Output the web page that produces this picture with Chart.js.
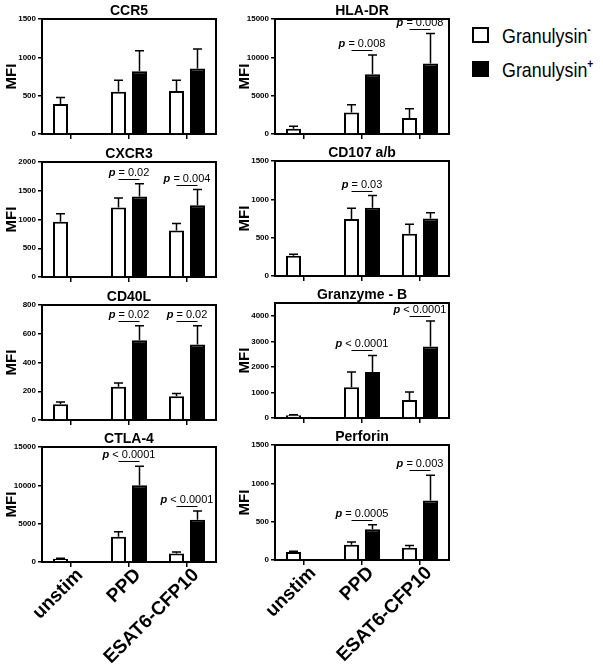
<!DOCTYPE html>
<html><head><meta charset="utf-8">
<script src="https://cdn.jsdelivr.net/npm/chart.js@4"></script>
<style>
html,body{margin:0;padding:0;background:#fff;width:603px;height:669px;overflow:hidden;position:relative}
canvas{position:absolute}
.sw{position:absolute;width:13px;height:12px;border:2px solid #000}
.lt{position:absolute;font-family:"Liberation Sans",Arial,sans-serif;font-size:21px;line-height:21px;transform-origin:left center;transform:scaleX(.85);white-space:nowrap;color:#000}
.lt sup{font-size:12px;font-weight:bold;line-height:0;position:relative;top:-1px}
</style></head><body>
<canvas id="c1" width="220" height="142" style="left:0;top:0"></canvas>
<canvas id="c2" width="220" height="142" style="left:233px;top:0"></canvas>
<canvas id="c3" width="220" height="142" style="left:0;top:143px"></canvas>
<canvas id="c4" width="220" height="142" style="left:233px;top:142px"></canvas>
<canvas id="c5" width="220" height="142" style="left:0;top:286px"></canvas>
<canvas id="c6" width="220" height="142" style="left:233px;top:284px"></canvas>
<canvas id="c7" width="220" height="241" style="left:0;top:428px"></canvas>
<canvas id="c8" width="220" height="243" style="left:233px;top:426px"></canvas>
<div id="legend"></div>
<script>
// ---------- data ----------
const categories = ['unstim', 'PPD', 'ESAT6-CFP10'];
const seriesNames = ['Granulysin', 'Granulysin'];
const seriesSup = ['-', '+'];

const ccr5Neg = [390, 550, 560];      const ccr5NegErr = [85, 150, 140];
const ccr5Pos = [null, 820, 855];     const ccr5PosErr = [null, 265, 255];
const ccr5P = [null, null, null];
const ccr5Ticks = [0, 500, 1000, 1500];

const hladrNeg = [700, 2800, 2100];   const hladrNegErr = [300, 1000, 1200];
const hladrPos = [null, 7800, 9200];  const hladrPosErr = [null, 2500, 3900];
const hladrP = [null, '= 0.008', '= 0.008'];
const hladrTicks = [0, 5000, 10000, 15000];

const cxcr3Neg = [960, 1210, 810];    const cxcr3NegErr = [140, 165, 120];
const cxcr3Pos = [null, 1400, 1250];  const cxcr3PosErr = [null, 220, 270];
const cxcr3P = [null, '= 0.02', '= 0.004'];
const cxcr3Ticks = [0, 500, 1000, 1500, 2000];

const cd107Neg = [265, 745, 550];     const cd107NegErr = [18, 140, 125];
const cd107Pos = [null, 890, 750];    const cd107PosErr = [null, 160, 75];
const cd107P = [null, '= 0.03', null];
const cd107Ticks = [0, 500, 1000, 1500];

const cd40lNeg = [110, 231, 165];     const cd40lNegErr = [16, 26, 20];
const cd40lPos = [null, 555, 525];    const cd40lPosErr = [null, 100, 130];
const cd40lP = [null, '= 0.02', '= 0.02'];
const cd40lTicks = [0, 200, 400, 600, 800];

const gzbNeg = [110, 1200, 700];      const gzbNegErr = [20, 600, 320];
const gzbPos = [null, 1800, 2800];    const gzbPosErr = [null, 650, 1000];
const gzbP = [null, '< 0.0001', '< 0.0001'];
const gzbTicks = [0, 1000, 2000, 3000, 4000];

const ctla4Neg = [420, 3300, 1100];   const ctla4NegErr = [60, 650, 200];
const ctla4Pos = [null, 10000, 5500]; const ctla4PosErr = [null, 2500, 1150];
const ctla4P = [null, '< 0.0001', '< 0.0001'];
const ctla4Ticks = [0, 5000, 10000, 15000];

const perfNeg = [105, 200, 160];      const perfNegErr = [10, 35, 30];
const perfPos = [null, 400, 775];     const perfPosErr = [null, 60, 330];
const perfP = [null, '= 0.0005', '= 0.003'];
const perfTicks = [0, 500, 1000, 1500];

// ---------- rendering ----------
const FAM = '"Liberation Sans", Arial, Helvetica, sans-serif';
Chart.defaults.font.family = FAM;
Chart.defaults.color = '#000';

const framePlugin = {
  id: 'frame',
  afterDraw(chart, args, o) {
    const {ctx, chartArea: a} = chart;
    ctx.save();
    ctx.strokeStyle = '#000'; ctx.lineWidth = 2;
    ctx.beginPath();
    ctx.moveTo(a.left - 1, a.top); ctx.lineTo(a.right, a.top); ctx.lineTo(a.right, a.bottom + 1);
    ctx.stroke();
    ctx.fillStyle = '#000';
    ctx.font = 'bold 14px ' + FAM;
    ctx.textAlign = 'center'; ctx.textBaseline = 'alphabetic';
    ctx.fillText(o.text, (a.left + a.right) / 2, a.top - 4);
    ctx.restore();
  }
};

const errPlugin = {
  id: 'errbars',
  afterDatasetsDraw(chart) {
    const ctx = chart.ctx, ys = chart.scales.y;
    chart.data.datasets.forEach((ds, di) => {
      const meta = chart.getDatasetMeta(di);
      meta.data.forEach((bar, i) => {
        const v = ds.data[i], e = ds.errors[i];
        if (v == null || e == null) return;
        const yt = ys.getPixelForValue(v + e);
        ctx.save();
        ctx.strokeStyle = '#000'; ctx.lineWidth = 1.5;
        ctx.beginPath();
        ctx.moveTo(bar.x, bar.y); ctx.lineTo(bar.x, yt);
        ctx.moveTo(bar.x - 4.5, yt); ctx.lineTo(bar.x + 4.5, yt);
        ctx.stroke();
        ctx.restore();
      });
    });
  }
};

const pPlugin = {
  id: 'pvals',
  afterDraw(chart, args, o) {
    const ctx = chart.ctx, ys = chart.scales.y;
    const ds = chart.data.datasets;
    const m0 = chart.getDatasetMeta(0), m1 = chart.getDatasetMeta(1);
    (o.values || []).forEach((txt, i) => {
      if (!txt) return;
      const top0 = ys.getPixelForValue(ds[0].data[i] + (ds[0].errors[i] || 0));
      const top1 = ys.getPixelForValue(ds[1].data[i] + (ds[1].errors[i] || 0));
      const top = Math.min(top0, top1);
      const x0 = m0.data[i].x, x1 = m1.data[i].x;
      const ly = Math.round(top - 5) + 0.5;
      ctx.save();
      ctx.strokeStyle = '#000'; ctx.lineWidth = 1;
      ctx.beginPath(); ctx.moveTo(x0, ly); ctx.lineTo(x1, ly); ctx.stroke();
      ctx.fillStyle = '#000';
      ctx.textAlign = 'left'; ctx.textBaseline = 'alphabetic';
      const f1 = 'italic bold 11px ' + FAM, f2 = '11px ' + FAM;
      ctx.font = f1; const w1 = ctx.measureText('p').width;
      const rest = ' ' + txt;
      ctx.font = f2; const w2 = ctx.measureText(rest).width;
      const sx = (x0 + x1) / 2 - (w1 + w2) / 2;
      ctx.font = f1; ctx.fillText('p', sx, ly - 4);
      ctx.font = f2; ctx.fillText(rest, sx + w1, ly - 4);
      ctx.restore();
    });
  }
};

function makePanel(id, title, neg, negErr, pos, posErr, pvals, yMax, yTicks, bottomRow, xHeight) {
  new Chart(document.getElementById(id), {
    type: 'bar',
    data: {
      labels: categories,
      datasets: [
        {label: seriesNames[0] + seriesSup[0], data: neg, errors: negErr,
         backgroundColor: '#fff', borderColor: '#000', borderWidth: 2,
         barPercentage: 0.714, categoryPercentage: 0.724},
        {label: seriesNames[1] + seriesSup[1], data: pos, errors: posErr,
         backgroundColor: '#000', borderColor: '#000', borderWidth: 2,
         barPercentage: 0.714, categoryPercentage: 0.724}
      ]
    },
    options: {
      responsive: false, animation: false, devicePixelRatio: 1,
      layout: {padding: {top: 19, left: 0, right: 4, bottom: 0}},
      plugins: {
        legend: {display: false}, tooltip: {enabled: false},
        frame: {text: title}, pvals: {values: pvals}
      },
      scales: {
        x: {
          offset: true,
          grid: {display: true, drawOnChartArea: false, drawTicks: true, tickLength: 5, color: '#000', lineWidth: 1.5, offset: false},
          border: {display: true, color: '#000', width: 2},
          ticks: {display: bottomRow, autoSkip: false, minRotation: 45, maxRotation: 45, padding: -3, labelOffset: 9,
                  font: {size: 19, weight: 'bold', family: FAM}, color: '#000'},
          afterFit(s) { s.height = xHeight; }
        },
        y: {
          min: 0, max: yMax,
          grid: {display: true, drawOnChartArea: false, drawTicks: true, tickLength: 4, color: '#000', lineWidth: 1.5},
          border: {display: true, color: '#000', width: 2},
          ticks: {padding: 2, color: '#000', font: {size: 8, weight: 'bold', family: FAM}, callback: v => String(v)},
          afterBuildTicks(s) { s.ticks = yTicks.map(v => ({value: v})); },
          title: {display: true, text: 'MFI', color: '#000', font: {size: 15, weight: 'bold', family: FAM}, padding: {top: 3, bottom: 0}},
          afterFit(s) { s.width = 42; }
        }
      }
    },
    plugins: [framePlugin, errPlugin, pPlugin]
  });
}

makePanel('c1', 'CCR5', ccr5Neg, ccr5NegErr, ccr5Pos, ccr5PosErr, ccr5P, 1500, ccr5Ticks, false, 8);
makePanel('c2', 'HLA-DR', hladrNeg, hladrNegErr, hladrPos, hladrPosErr, hladrP, 15000, hladrTicks, false, 8);
makePanel('c3', 'CXCR3', cxcr3Neg, cxcr3NegErr, cxcr3Pos, cxcr3PosErr, cxcr3P, 2000, cxcr3Ticks, false, 8);
makePanel('c4', 'CD107 a/b', cd107Neg, cd107NegErr, cd107Pos, cd107PosErr, cd107P, 1500, cd107Ticks, false, 8);
makePanel('c5', 'CD40L', cd40lNeg, cd40lNegErr, cd40lPos, cd40lPosErr, cd40lP, 800, cd40lTicks, false, 8);
makePanel('c6', 'Granzyme - B', gzbNeg, gzbNegErr, gzbPos, gzbPosErr, gzbP, 4500, gzbTicks, false, 8);
makePanel('c7', 'CTLA-4', ctla4Neg, ctla4NegErr, ctla4Pos, ctla4PosErr, ctla4P, 15000, ctla4Ticks, true, 107);
makePanel('c8', 'Perforin', perfNeg, perfNegErr, perfPos, perfPosErr, perfP, 1500, perfTicks, true, 109);

// legend (HTML, built from series names)
const lg = document.getElementById('legend');
const swatchFill = ['#fff', '#000'];
const legendTops = [27, 61];
seriesNames.forEach((n, i) => {
  const sw = document.createElement('div');
  sw.className = 'sw';
  sw.style.left = '472px'; sw.style.top = legendTops[i] + 'px';
  sw.style.background = swatchFill[i];
  lg.appendChild(sw);
  const t = document.createElement('div');
  t.className = 'lt';
  t.style.left = '502px'; t.style.top = (legendTops[i] - 2) + 'px';
  t.appendChild(document.createTextNode(n));
  const s = document.createElement('sup'); s.textContent = seriesSup[i];
  t.appendChild(s);
  lg.appendChild(t);
});
</script>
</body></html>
